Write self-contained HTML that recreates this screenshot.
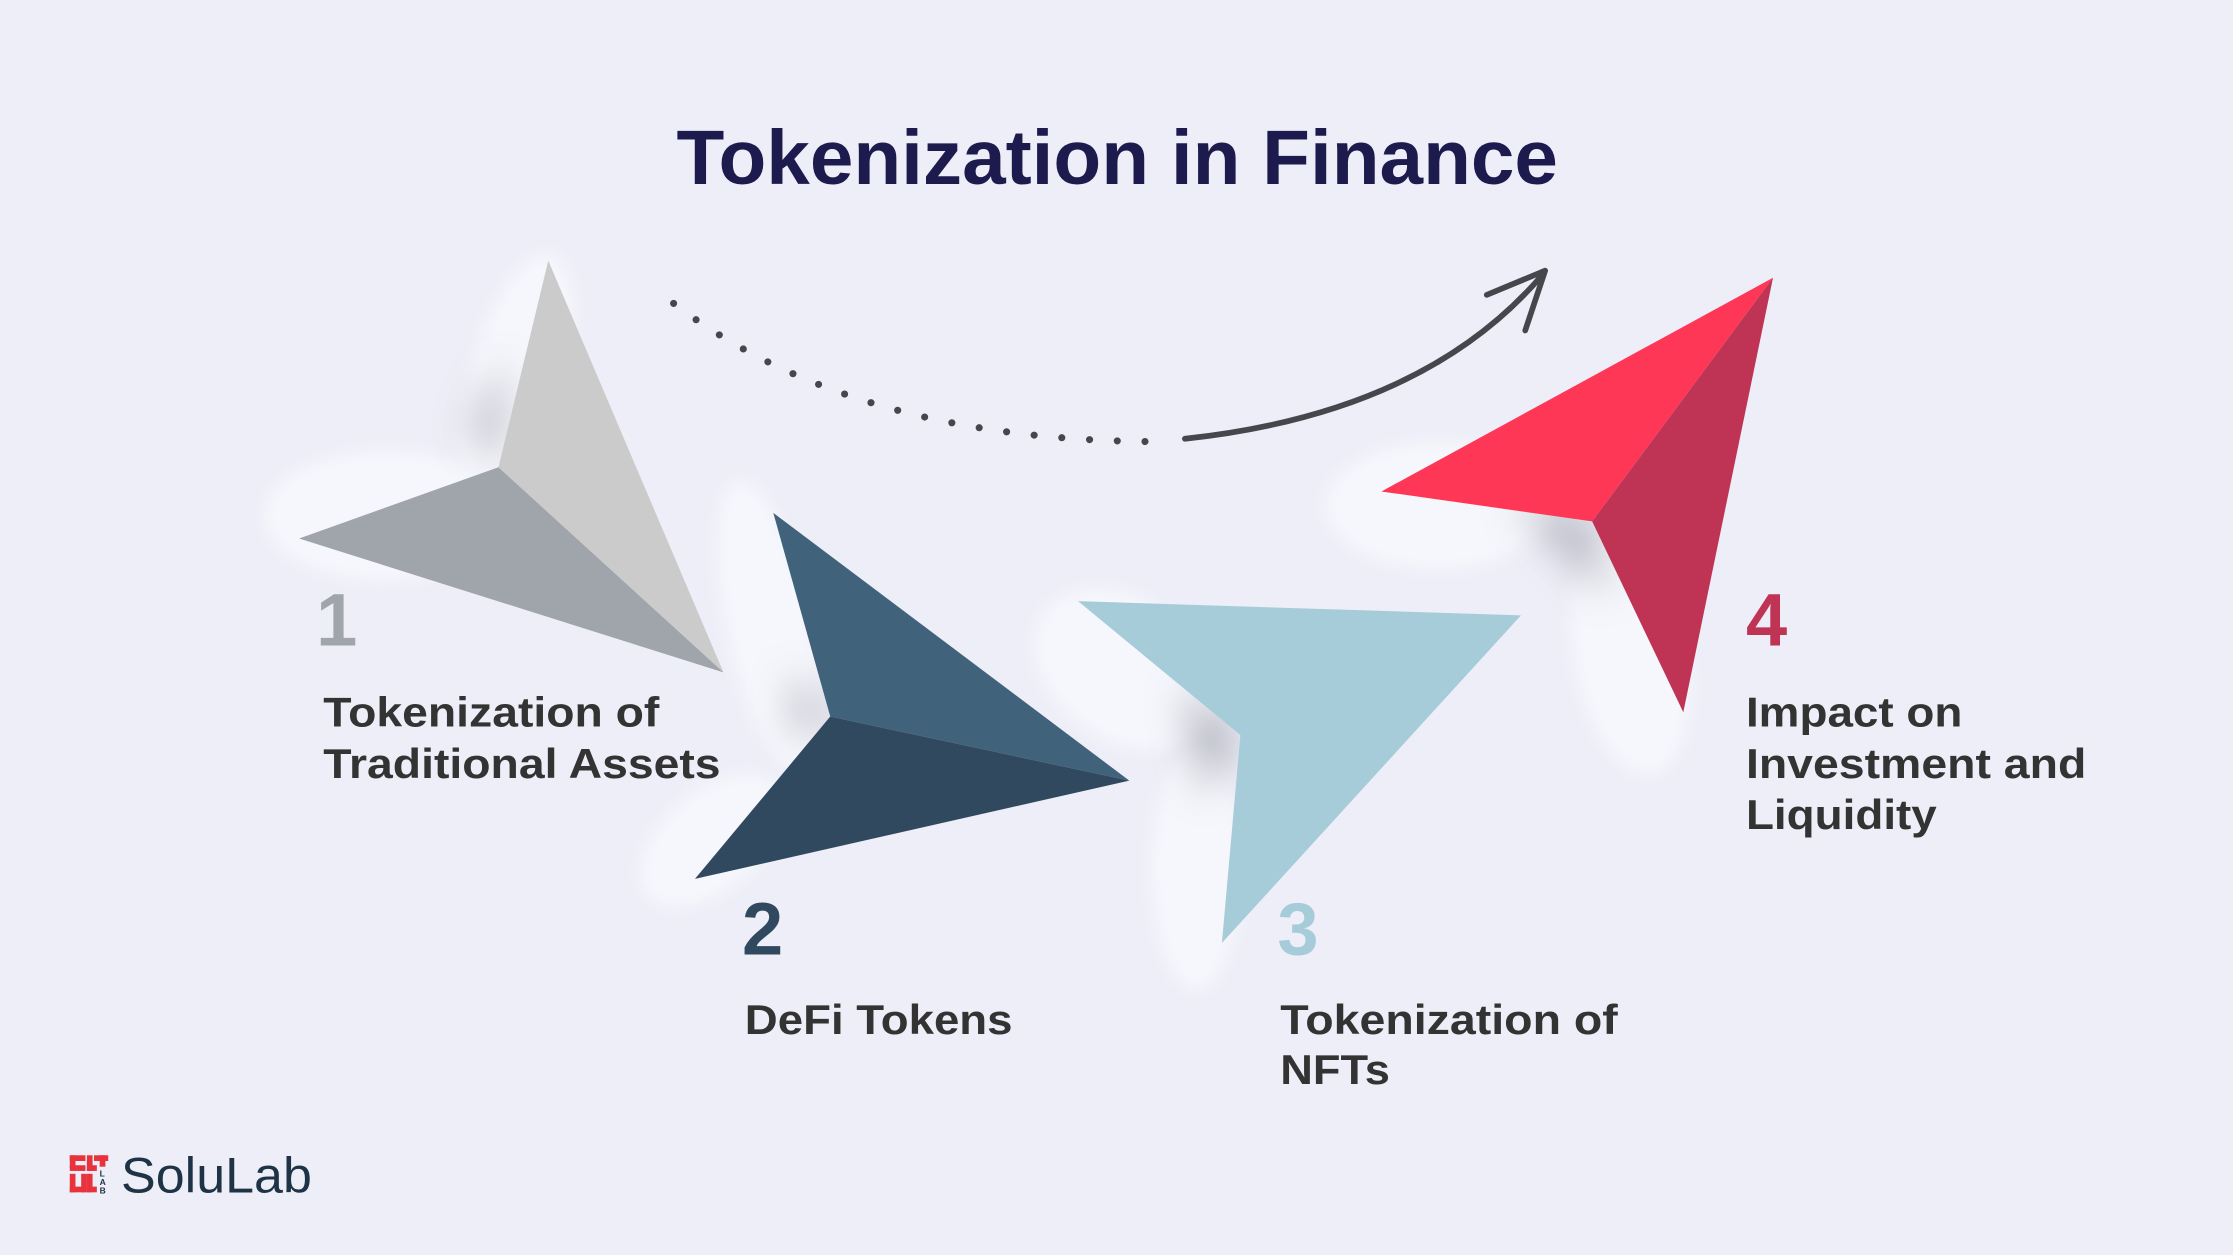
<!DOCTYPE html>
<html><head><meta charset="utf-8"><style>
html,body{margin:0;padding:0;background:#edeef7;}
svg{display:block}
text{font-family:"Liberation Sans",sans-serif;font-weight:bold}
</style></head><body>
<svg width="2233" height="1255" viewBox="0 0 1568 881" preserveAspectRatio="none" xmlns="http://www.w3.org/2000/svg">
<defs>
<filter id="b" x="-50%" y="-50%" width="200%" height="200%"><feGaussianBlur stdDeviation="14"/></filter>
<filter id="b2" x="-50%" y="-50%" width="200%" height="200%"><feGaussianBlur stdDeviation="5"/></filter>
</defs>
<rect width="1568" height="881" fill="#edeef7"/>
<g>
<ellipse cx="270" cy="362" rx="85" ry="46" fill="#f6f7fc" filter="url(#b2)"/>
<ellipse cx="362" cy="270" rx="34" ry="95" transform="rotate(15 362 270)" fill="#f6f7fc" filter="url(#b2)"/>
<ellipse cx="540" cy="440" rx="30" ry="105" transform="rotate(-12 540 440)" fill="#f6f7fc" filter="url(#b2)"/>
<ellipse cx="500" cy="590" rx="60" ry="35" transform="rotate(-40 500 590)" fill="#f6f7fc" filter="url(#b2)"/>
<ellipse cx="790" cy="470" rx="70" ry="50" transform="rotate(35 790 470)" fill="#f6f7fc" filter="url(#b2)"/>
<ellipse cx="840" cy="610" rx="32" ry="85" fill="#f6f7fc" filter="url(#b2)"/>
<ellipse cx="1010" cy="355" rx="80" ry="45" fill="#f6f7fc" filter="url(#b2)"/>
<ellipse cx="1145" cy="460" rx="40" ry="85" transform="rotate(-10 1145 460)" fill="#f6f7fc" filter="url(#b2)"/>
</g>
<g fill="#9a9ba6" opacity="0.7" filter="url(#b)">
<path d="M350,328 L330,300 L355,250 Z"/>
<path d="M583,503 L555,470 L560,520 Z"/>
<path d="M871,516 L830,480 L845,560 Z"/>
<path d="M1118,366 L1060,350 L1130,420 Z"/>
</g>
<polygon points="385,183 350,328 508,472" fill="#cbcbcb"/>
<polygon points="210,378 350,328 508,472" fill="#a0a4ab"/>
<polygon points="543,360 583,503 793,548" fill="#41627b"/>
<polygon points="583,503 793,548 488,617" fill="#30495e"/>
<polygon points="757,422 1068,432 858,662 871,516" fill="#a6ccd9"/>
<polygon points="1245,195 970,345 1118,366" fill="#ff3757"/>
<polygon points="1245,195 1118,366 1182,500" fill="#bf3455"/>
<path d="M473,213 Q600,310 815,310" fill="none" stroke="#45474d" stroke-width="5" stroke-linecap="round" stroke-dasharray="0 19.5"/>
<path d="M832,308 Q1000,290 1083,193" fill="none" stroke="#45474d" stroke-width="4" stroke-linecap="round"/>
<path d="M1044,207 L1085,190 L1071,232" fill="none" stroke="#45474d" stroke-width="4" stroke-linecap="round" stroke-linejoin="round"/>
<text x="475" y="129" font-size="54" fill="#1d1b4d" textLength="619" lengthAdjust="spacingAndGlyphs">Tokenization in Finance</text>
<text x="222" y="453" font-size="52" fill="#a0a4ab">1</text>
<text x="227" y="510" font-size="29" fill="#333" textLength="236" lengthAdjust="spacingAndGlyphs">Tokenization of</text>
<text x="227" y="546" font-size="29" fill="#333" textLength="279" lengthAdjust="spacingAndGlyphs">Traditional Assets</text>
<text x="521" y="670" font-size="52" fill="#30495e">2</text>
<text x="523" y="726" font-size="29" fill="#333" textLength="188" lengthAdjust="spacingAndGlyphs">DeFi Tokens</text>
<text x="897" y="670" font-size="52" fill="#a6ccd9">3</text>
<text x="899" y="726" font-size="29" fill="#333" textLength="237" lengthAdjust="spacingAndGlyphs">Tokenization of</text>
<text x="899" y="761" font-size="29" fill="#333" textLength="77" lengthAdjust="spacingAndGlyphs">NFTs</text>
<text x="1226" y="453" font-size="52" fill="#bf3455">4</text>
<text x="1226" y="510" font-size="29" fill="#333" textLength="152" lengthAdjust="spacingAndGlyphs">Impact on</text>
<text x="1226" y="546" font-size="29" fill="#333" textLength="239" lengthAdjust="spacingAndGlyphs">Investment and</text>
<text x="1226" y="582" font-size="29" fill="#333" textLength="134" lengthAdjust="spacingAndGlyphs">Liquidity</text>
<g fill="#e8333d">
<rect x="49" y="811" width="11" height="4"/><rect x="49" y="811" width="4" height="9"/><rect x="49" y="818" width="11" height="4"/>
<rect x="61" y="811" width="4" height="11"/><rect x="61" y="818" width="7" height="4"/>
<rect x="66" y="811" width="10" height="4"/><rect x="70" y="811" width="4" height="8"/>
<rect x="49" y="824" width="4" height="13"/><rect x="49" y="833" width="11" height="4"/><rect x="57" y="824" width="4" height="13"/>
<rect x="61" y="824" width="4" height="13"/><rect x="61" y="833" width="7" height="4"/>
</g>
<text x="70" y="826" font-size="6" fill="#1f3347">L</text>
<text x="70" y="832" font-size="6" fill="#1f3347">A</text>
<text x="70" y="838" font-size="6" fill="#1f3347">B</text>
<text x="85" y="837" font-size="35" style="font-weight:normal" fill="#1f3347" textLength="134" lengthAdjust="spacingAndGlyphs">SoluLab</text>
</svg>
</body></html>
